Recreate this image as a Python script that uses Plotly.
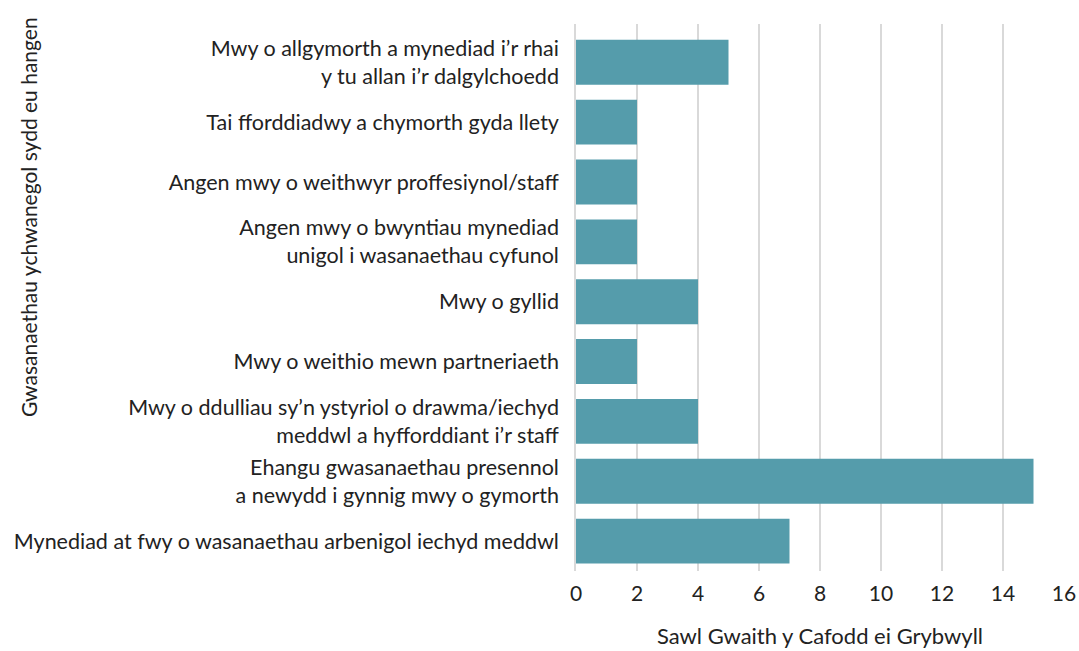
import plotly.graph_objects as go

# Data
categories = [
    "Mwy o allgymorth a mynediad i’r rhai<br>y tu allan i’r dalgylchoedd",
    "Tai fforddiadwy a chymorth gyda llety",
    "Angen mwy o weithwyr proffesiynol/staff",
    "Angen mwy o bwyntiau mynediad<br>unigol i wasanaethau cyfunol",
    "Mwy o gyllid",
    "Mwy o weithio mewn partneriaeth",
    "Mwy o ddulliau sy’n ystyriol o drawma/iechyd<br>meddwl a hyfforddiant i’r staff",
    "Ehangu gwasanaethau presennol<br>a newydd i gynnig mwy o gymorth",
    "Mynediad at fwy o wasanaethau arbenigol iechyd meddwl",
]
counts = [5, 2, 2, 2, 4, 2, 4, 15, 7]

x_title = "Sawl Gwaith y Cafodd ei Grybwyll"
y_title = "Gwasanaethau ychwanegol sydd eu hangen"

# Styling
BAR_COLOR = '#559cab'
GRID_COLOR = '#d9d9d9'
TEXT_COLOR = '#222222'
FONT = 'Lato, sans-serif'

fig = go.Figure()
fig.add_trace(go.Bar(
    x=counts, y=categories, orientation='h',
    marker=dict(color=BAR_COLOR, line=dict(width=0)),
    width=0.75,
    hoverinfo='x+y'
))

fig.update_layout(
    width=1079, height=651,
    paper_bgcolor='white', plot_bgcolor='white',
    font=dict(family=FONT, color=TEXT_COLOR, size=21.5),
    margin=dict(l=576, r=15, t=24, b=80),
    showlegend=False,
    xaxis=dict(
        range=[0, 16], dtick=2, showgrid=True, gridcolor=GRID_COLOR, gridwidth=1.5,
        zeroline=False, showline=False, automargin=False,
        tickfont=dict(size=21), ticklabelstandoff=8,
        title=dict(text=x_title, font=dict(size=22), standoff=24)
    ),
    yaxis=dict(
        type='category', categoryorder='array', categoryarray=categories[::-1],
        range=[-0.5, 8.64], showgrid=False, zeroline=False, automargin=False,
        showline=True, linecolor=GRID_COLOR, linewidth=1.5,
        ticks='', ticklabelstandoff=11
    ),
    annotations=[dict(
        text=y_title, textangle=-90, xref='paper', yref='paper',
        x=-576/488 + 29/488, y=1 - (217 - 24)/547, xanchor='center', yanchor='middle',
        showarrow=False, font=dict(size=21, color=TEXT_COLOR)
    )]
)

fig.write_html("out.html", config=dict(displayModeBar=False),
               post_script="document.body.style.margin='0';")
